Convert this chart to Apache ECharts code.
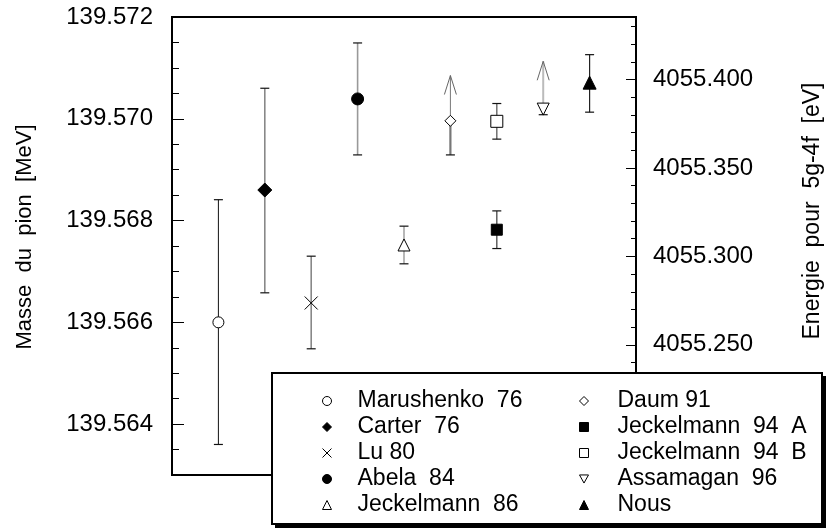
<!DOCTYPE html>
<html>
<head>
<meta charset="utf-8">
<script src="https://cdn.jsdelivr.net/npm/echarts@6/dist/echarts.min.js"></script>
<style>html,body{margin:0;padding:0;background:#fff;}#c{width:826px;height:532px;}</style>
</head>
<body>
<div id="c"></div>
<script>
// ---- data ----
const labels = ['Marushenko  76', 'Carter  76', 'Lu 80', 'Abela  84', 'Jeckelmann  86',
                'Daum 91', 'Jeckelmann  94  A', 'Jeckelmann  94  B', 'Assamagan  96', 'Nous'];
const xPos = [1, 2, 3, 4, 5, 6, 7, 7, 8, 9];
const masses  = [139.56600, 139.56860, 139.56638, 139.57039, 139.56752, 139.56996, 139.56782, 139.56995, 139.57019, 139.57071];
const errLow  = [139.56360, 139.56658, 139.56548, 139.56929, 139.56715, 139.56929, 139.56745, 139.56960, 139.57008, 139.57013];
const errHigh = [139.56841, 139.57060, 139.56730, 139.57149, 139.56789, null,      139.56819, 139.57030, null,      139.57126];
const arrowTip = [null, null, null, null, null, 139.57085, null, null, 139.57113, null];
const massTicks = [139.564, 139.566, 139.568, 139.570, 139.572];
const energyTicks = [4055.250, 4055.300, 4055.350, 4055.400];
const massRange = [139.563, 139.572];
const energyRange = [4055.1764, 4055.4354];

// ---- styles ----
const FONT = '"Liberation Sans", Arial, Helvetica, sans-serif';
const invTri = 'path://M0,0L10,0L5,9Z';
const symbols = ['circle', 'diamond', 'path://M0,0L10,10M10,0L0,10', 'circle', 'triangle',
                 'diamond', 'rect', 'rect', invTri, 'triangle'];
const fills   = ['#fff', '#000', 'none', '#000', '#fff', '#fff', '#000', '#fff', '#fff', '#000'];
const sizes   = [11, 14, 13, 12, 12, 11, 11, 12, 12, 13];
const barColors = ['#111', '#888', '#888', '#999', '#888', '#777', '#555', '#666', '#aaa', '#222'];
const barWidths = [1, 1.6, 1.6, 1.6, 1.2, 2.2, 1.4, 1.4, 2, 1.2];

const minorMass = [];
for (let k = 0; k <= 18; k++) {
  const v = +(massRange[0] + k * 0.0005).toFixed(4);
  if (!massTicks.some(t => Math.abs(t - v) < 1e-7)) minorMass.push(v);
}
const minorEnergy = [];
for (let k = 18; k <= 43; k++) {
  const v = +(4055 + k * 0.01).toFixed(2);
  if (!energyTicks.some(t => Math.abs(t - v) < 1e-7)) minorEnergy.push(v);
}

const barData = xPos.map((x, i) => [
  x,
  errLow[i],
  errHigh[i] == null ? masses[i] : errHigh[i],
  arrowTip[i] == null ? masses[i] : arrowTip[i],
  masses[i]
]);

const chart = echarts.init(document.getElementById('c'), null, {renderer: 'canvas'});

function axisBase(pos, range) {
  return {
    type: 'value', position: pos, min: range[0], max: range[1],
    splitLine: {show: false}, scale: true
  };
}

function legendCfg(idx, left, padLeft) {
  return {
    data: idx.map(i => ({name: labels[i], icon: symbols[i]})),
    orient: 'vertical', left: left, top: 384, itemWidth: 9, itemHeight: 9,
    itemGap: 2, selectedMode: false, z: 60,
    itemStyle: {borderWidth: 1, borderColor: '#000'},
    textStyle: {fontSize: 23, lineHeight: 24, color: '#000', fontFamily: FONT, padding: [0, 0, 0, padLeft]}
  };
}

const option = {
  animation: false,
  backgroundColor: '#fff',
  grid: {left: 172, top: 17, width: 464, height: 458, show: true,
         borderColor: '#000', borderWidth: 2, backgroundColor: 'transparent'},
  xAxis: {type: 'value', min: 0, max: 10, show: false},
  yAxis: [
    Object.assign(axisBase('left', massRange), {
      axisLine: {show: true, lineStyle: {color: '#000', width: 2}},
      axisTick: {show: true, inside: true, length: 12, customValues: massTicks, lineStyle: {color: '#000', width: 1}},
      axisLabel: {show: true, customValues: massTicks, margin: 19, color: '#000', fontSize: 24, fontFamily: FONT,
                  formatter: v => v.toFixed(3)}
    }),
    Object.assign(axisBase('left', massRange), {
      axisLine: {show: false},
      axisTick: {show: true, inside: true, length: 7, customValues: minorMass, lineStyle: {color: '#000', width: 1}},
      axisLabel: {show: false}
    }),
    Object.assign(axisBase('right', energyRange), {
      axisLine: {show: true, lineStyle: {color: '#000', width: 2}},
      axisTick: {show: true, inside: true, length: 10, customValues: energyTicks, lineStyle: {color: '#000', width: 1}},
      axisLabel: {show: true, customValues: energyTicks, margin: 17, color: '#000', fontSize: 24, fontFamily: FONT,
                  formatter: v => v.toFixed(3)}
    }),
    Object.assign(axisBase('right', energyRange), {
      axisLine: {show: false},
      axisTick: {show: true, inside: true, length: 5, customValues: minorEnergy, lineStyle: {color: '#000', width: 1}},
      axisLabel: {show: false}
    })
  ],
  legend: [
    legendCfg([0, 1, 2, 3, 4], 315, 21),
    legendCfg([5, 6, 7, 8, 9], 574, 24)
  ],
  graphic: [
    {type: 'rect', z: 50, shape: {x: 275, y: 376, width: 552, height: 152}, style: {fill: '#000'}},
    {type: 'rect', z: 51, shape: {x: 272, y: 373, width: 550, height: 151},
     style: {fill: '#fff', stroke: '#000', lineWidth: 2}},
    {type: 'text', z: 10, x: 25, y: 237, rotation: Math.PI / 2,
     style: {text: 'Masse  du  pion  [MeV]', font: '22px ' + FONT, fill: '#000', textAlign: 'center', textVerticalAlign: 'middle'}},
    {type: 'text', z: 10, x: 813, y: 211, rotation: Math.PI / 2,
     style: {text: 'Energie  pour  5g-4f  [eV]', font: '23px ' + FONT, fill: '#000', textAlign: 'center', textVerticalAlign: 'middle'}}
  ],
  series: [
    {
      type: 'custom', xAxisIndex: 0, yAxisIndex: 0, z: 3, silent: true,
      data: barData,
      renderItem: function (params, api) {
        const i = params.dataIndex;
        const x = api.value(0);
        const pLow = api.coord([x, api.value(1)]);
        const pHigh = api.coord([x, api.value(2)]);
        const pTip = api.coord([x, api.value(3)]);
        const pMid = api.coord([x, api.value(4)]);
        const col = barColors[i], w = barWidths[i];
        const capHalf = 4.5;
        const kids = [];
        kids.push({type: 'line', shape: {x1: pLow[0], y1: pLow[1], x2: pHigh[0], y2: pHigh[1]},
                   style: {stroke: col, lineWidth: w}});
        kids.push({type: 'line', shape: {x1: pLow[0] - capHalf, y1: pLow[1], x2: pLow[0] + capHalf, y2: pLow[1]},
                   style: {stroke: '#111', lineWidth: 1.2}});
        if (pHigh[1] < pMid[1] - 0.5) {
          kids.push({type: 'line', shape: {x1: pHigh[0] - capHalf, y1: pHigh[1], x2: pHigh[0] + capHalf, y2: pHigh[1]},
                     style: {stroke: '#111', lineWidth: 1.2}});
        }
        if (pTip[1] < pMid[1] - 0.5) {
          kids.push({type: 'line', shape: {x1: pMid[0], y1: pMid[1], x2: pTip[0], y2: pTip[1]},
                     style: {stroke: i === 8 ? '#bbb' : '#777', lineWidth: i === 8 ? 2 : 1}});
          kids.push({type: 'polyline', shape: {points: [[pTip[0] - 6, pTip[1] + 19], [pTip[0], pTip[1]], [pTip[0] + 6, pTip[1] + 19]]},
                     style: {stroke: '#666', lineWidth: 1, fill: 'none'}});
        }
        return {type: 'group', children: kids};
      }
    }
  ].concat(labels.map((name, i) => ({
    name: name, type: 'scatter', xAxisIndex: 0, yAxisIndex: 0, z: 5,
    symbol: symbols[i], symbolSize: sizes[i],
    itemStyle: {color: fills[i], borderColor: '#000', borderWidth: 1, opacity: 1},
    data: [[xPos[i], masses[i]]]
  })))
};
chart.setOption(option);
</script>
</body>
</html>
